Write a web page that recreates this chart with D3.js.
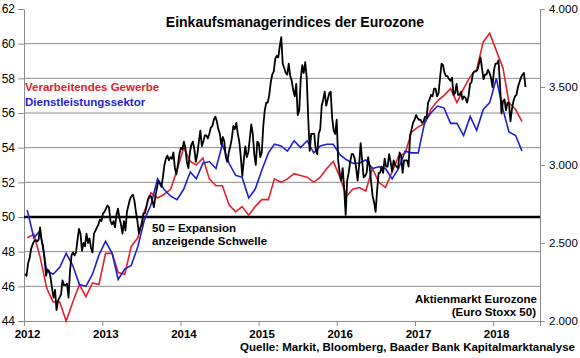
<!DOCTYPE html>
<html>
<head>
<meta charset="utf-8">
<script src="https://cdn.jsdelivr.net/npm/d3@7"></script>
<style>
  body { margin: 0; background: #fff; }
  text { font-family: Arial, "Liberation Sans", sans-serif; }
</style>
</head>
<body>
<div id="chart"></div>
<script>
// PMI monthly values, Jan 2012 - May 2018
const mfg = [
  48.8, 49.0, 47.7, 45.9, 45.1, 45.1, 44.0, 45.1, 46.1, 45.4, 46.2, 46.1,
  47.9, 47.9, 46.8, 46.7, 48.3, 48.8, 50.3, 51.4, 51.1, 51.3, 51.6, 52.7,
  54.0, 53.2, 53.0, 53.4, 52.2, 51.8, 51.8, 50.7, 50.3, 50.6, 50.1, 50.6,
  51.0, 51.0, 52.2, 52.0, 52.2, 52.5, 52.4, 52.3, 52.0, 52.3, 52.8, 53.2,
  52.3, 51.2, 51.6, 51.7, 51.5, 52.8, 52.0, 51.7, 52.6, 53.5, 53.7, 54.9,
  55.2, 55.4, 56.2, 56.7, 57.0, 57.4, 56.6, 57.4, 58.1, 58.5, 60.1, 60.6,
  59.6, 58.6, 56.6, 56.2, 55.5
];
const svc = [
  50.4, 48.8, 49.2, 46.9, 46.7, 47.1, 47.9, 47.2, 46.1, 46.0, 46.7, 47.8,
  48.6, 47.9, 46.4, 47.0, 47.2, 48.3, 49.8, 50.7, 52.2, 51.6, 51.2, 51.0,
  51.6, 52.6, 52.2, 53.1, 53.2, 52.8, 54.2, 53.1, 52.4, 52.3, 51.1, 51.6,
  52.7, 53.7, 54.2, 54.1, 53.8, 54.4, 54.0, 54.4, 53.7, 54.1, 54.2, 54.2,
  53.6, 53.3, 53.1, 53.1, 53.3, 52.8, 52.9, 52.8, 52.2, 52.8, 53.8, 53.7,
  53.7, 55.5, 56.0, 56.4, 56.3, 55.4, 55.4, 54.7, 55.8, 55.0, 56.2, 56.6,
  58.0, 56.2, 54.9, 54.7, 53.8
];

// Euro Stoxx 50, weekly closes
const stoxx2012 = [
  2300, 2290, 2370, 2400, 2460, 2490, 2510, 2520, 2510, 2520, 2600, 2520, 2480,
  2400, 2290, 2330, 2320, 2280, 2210, 2150, 2200, 2070, 2130, 2150, 2170, 2260,
  2230, 2230, 2240, 2150, 2320, 2420, 2440, 2420, 2440, 2520, 2590, 2560, 2450,
  2500, 2480, 2560, 2500, 2530, 2470, 2440, 2560, 2580, 2600, 2620, 2650, 2640, 2690
];
const stoxx2013 = [
  2700, 2720, 2740, 2730, 2640, 2620, 2640, 2600, 2680, 2720, 2660, 2620, 2560,
  2640, 2580, 2700, 2740, 2780, 2800, 2810, 2770, 2700, 2640, 2560, 2600, 2620,
  2690, 2690, 2730, 2780, 2800, 2800, 2770, 2730, 2800, 2850, 2900, 2880, 2860,
  2920, 3000, 3040, 3060, 3030, 3050, 3040, 3080, 2980, 2940, 3000, 3070, 3110
];
const stoxx2014 = [
  3100, 3150, 3110, 3020, 2980, 3080, 3130, 3150, 3100, 3020, 3070, 3150, 3220,
  3120, 3150, 3190, 3190, 3170, 3200, 3240, 3250, 3290, 3310, 3280, 3230, 3200,
  3130, 3180, 3150, 3050, 3020, 3080, 3120, 3170, 3250, 3230, 3270, 3200, 3150,
  3050, 2930, 3030, 3120, 3050, 3080, 3170, 3260, 3200, 3070, 3000, 3150, 3140
];
const stoxx2015 = [
  3050, 3080, 3250, 3350, 3400, 3400, 3450, 3530, 3580, 3600, 3680, 3700, 3690,
  3760, 3820, 3650, 3620, 3590, 3580, 3650, 3570, 3540, 3480, 3440, 3520, 3320,
  3350, 3550, 3640, 3590, 3660, 3560, 3300, 3090, 3200, 3200, 3200, 3100, 3070,
  3200, 3230, 3380, 3420, 3470, 3380, 3420, 3460, 3470, 3300, 3220, 3200, 3290
];
const stoxx2016 = [
  3030, 2950, 2900, 2980, 2850, 2680, 2900, 2950, 3020, 3070, 3070, 3040, 2980,
  2900, 3000, 3140, 3030, 2920, 2930, 2950, 3050, 2990, 2890, 2800, 2760, 2700,
  2840, 2950, 2950, 2990, 2950, 3040, 2990, 2990, 3070, 3020, 2960, 3030, 3000,
  2990, 2980, 3080, 3060, 2950, 3030, 3030, 3030, 2990, 3190, 3230, 3270, 3290
];
const stoxx2017 = [
  3320, 3300, 3290, 3290, 3270, 3280, 3310, 3300, 3400, 3420, 3450, 3440, 3490,
  3490, 3440, 3460, 3560, 3650, 3640, 3590, 3570, 3570, 3550, 3540, 3560, 3450,
  3460, 3520, 3450, 3450, 3470, 3420, 3440, 3430, 3400, 3440, 3520, 3530, 3590,
  3600, 3600, 3610, 3650, 3690, 3620, 3550, 3580, 3580, 3610, 3590, 3560, 3500
];
const stoxx2018 = [
  3610, 3650, 3650, 3670, 3520, 3330, 3410, 3420, 3350, 3400, 3400, 3280, 3360,
  3410, 3440, 3450, 3500, 3530, 3560, 3580, 3590, 3500
];

const leftTicks = [44, 46, 48, 50, 52, 54, 56, 58, 60, 62];
const gridTicks = [46, 48, 52, 54, 56, 58, 60];
const rightTicks = [2000, 2500, 3000, 3500, 4000];
const years = [2012, 2013, 2014, 2015, 2016, 2017, 2018];

const width = 580;
const height = 358;
const margin = { top: 9, right: 40, bottom: 37, left: 24 };

const svg = d3.select('#chart')
  .append('svg')
  .attr('width', width)
  .attr('height', height)
  .style('background', '#fff');

const x = d3.scaleTime()
  .domain([new Date(2012, 0, 1), new Date(2018, 7, 8)])
  .range([margin.left, width - margin.right]);
const yL = d3.scaleLinear()
  .domain([44, 62])
  .range([height - margin.bottom, margin.top]);
const yR = d3.scaleLinear()
  .domain([2000, 4000])
  .range([height - margin.bottom, margin.top]);

const pmiDate = i => new Date(2012, i, 16);
const stoxx = [].concat(stoxx2012, stoxx2013, stoxx2014, stoxx2015, stoxx2016, stoxx2017, stoxx2018);
const stoxxDate = i => d3.timeDay.offset(new Date(2012, 0, 6), 7 * i);

// gridlines
svg.append('g')
  .selectAll('line')
  .data(gridTicks)
  .join('line')
    .attr('x1', margin.left)
    .attr('x2', width - margin.right)
    .attr('y1', d => yL(d))
    .attr('y2', d => yL(d))
    .attr('stroke', '#8c8c8c')
    .attr('stroke-width', 1);

// axes
function leftAxis(g) {
  g.attr('transform', `translate(${margin.left},0)`)
    .call(d3.axisLeft(yL).tickValues(leftTicks).tickSize(6).tickPadding(3))
    .call(g => g.select('.domain').attr('stroke', '#8c8c8c'))
    .call(g => g.selectAll('.tick line').attr('stroke', '#8c8c8c'))
    .call(g => g.selectAll('text').attr('font-size', '12px').attr('fill', '#000'));
}
function rightAxis(g) {
  g.attr('transform', `translate(${width - margin.right},0)`)
    .call(d3.axisRight(yR).tickValues(rightTicks).tickSize(5).tickPadding(4)
      .tickFormat(d => d3.format(',')(d).replace(',', '.')))
    .call(g => g.select('.domain').attr('stroke', '#8c8c8c'))
    .call(g => g.selectAll('.tick line').attr('stroke', '#8c8c8c'))
    .call(g => g.selectAll('text').attr('font-size', '11.5px').attr('fill', '#000'));
}
function bottomAxis(g) {
  g.attr('transform', `translate(0,${height - margin.bottom})`)
    .call(d3.axisBottom(x).tickValues(years.map(y => new Date(y, 0, 1))).tickSize(5).tickPadding(4)
      .tickFormat(d3.timeFormat('%Y')))
    .call(g => g.select('.domain').attr('stroke', '#8c8c8c'))
    .call(g => g.selectAll('.tick line').attr('stroke', '#8c8c8c'))
    .call(g => g.selectAll('text').attr('font-size', '11.5px').attr('font-weight', 'bold')
      .attr('fill', '#000').attr('dx', 3));
}
svg.append('g').call(bottomAxis);
svg.append('g').call(leftAxis);
svg.append('g').call(rightAxis);
svg.selectAll('.domain').attr('stroke-width', 1);

// 50 threshold
svg.append('line')
  .attr('x1', margin.left)
  .attr('x2', width - margin.right)
  .attr('y1', yL(50))
  .attr('y2', yL(50))
  .attr('stroke', '#000')
  .attr('stroke-width', 2.5);

const pmiLine = d3.line()
  .x((d, i) => x(pmiDate(i)))
  .y(d => yL(d));

svg.append('path')
  .datum(mfg)
  .attr('fill', 'none')
  .attr('stroke', '#e3212b')
  .attr('stroke-width', 1.6)
  .attr('d', pmiLine);

svg.append('path')
  .datum(svc)
  .attr('fill', 'none')
  .attr('stroke', '#1f1fd6')
  .attr('stroke-width', 1.6)
  .attr('d', pmiLine);

svg.append('path')
  .datum(stoxx)
  .attr('fill', 'none')
  .attr('stroke', '#000')
  .attr('stroke-width', 1.8)
  .attr('stroke-linejoin', 'round')
  .attr('d', d3.line()
    .x((d, i) => x(stoxxDate(i)))
    .y(d => yR(d)));

// texts
svg.append('text')
  .attr('x', 295)
  .attr('y', 27)
  .attr('text-anchor', 'middle')
  .attr('font-size', '14px')
  .attr('font-weight', 'bold')
  .text('Einkaufsmanagerindices der Eurozone');

svg.append('text')
  .attr('x', 25)
  .attr('y', 91)
  .attr('font-size', '11.5px')
  .attr('font-weight', 'bold')
  .attr('fill', '#e3212b')
  .text('Verarbeitendes Gewerbe');

svg.append('text')
  .attr('x', 25)
  .attr('y', 106)
  .attr('font-size', '11.5px')
  .attr('font-weight', 'bold')
  .attr('fill', '#1f1fd6')
  .text('Dienstleistungssektor');

svg.append('text')
  .attr('x', 152)
  .attr('y', 232)
  .attr('font-size', '11.5px')
  .attr('font-weight', 'bold')
  .text('50 = Expansion');

svg.append('text')
  .attr('x', 152)
  .attr('y', 245)
  .attr('font-size', '11.5px')
  .attr('font-weight', 'bold')
  .text('anzeigende Schwelle');

svg.append('text')
  .attr('x', 537)
  .attr('y', 303)
  .attr('text-anchor', 'end')
  .attr('font-size', '11.5px')
  .attr('font-weight', 'bold')
  .text('Aktienmarkt Eurozone');

svg.append('text')
  .attr('x', 536)
  .attr('y', 316)
  .attr('text-anchor', 'end')
  .attr('font-size', '11.5px')
  .attr('font-weight', 'bold')
  .text('(Euro Stoxx 50)');

svg.append('text')
  .attr('x', 575)
  .attr('y', 351)
  .attr('text-anchor', 'end')
  .attr('font-size', '11.5px')
  .attr('font-weight', 'bold')
  .text('Quelle: Markit, Bloomberg, Baader Bank Kapitalmarktanalyse');
</script>
</body>
</html>
